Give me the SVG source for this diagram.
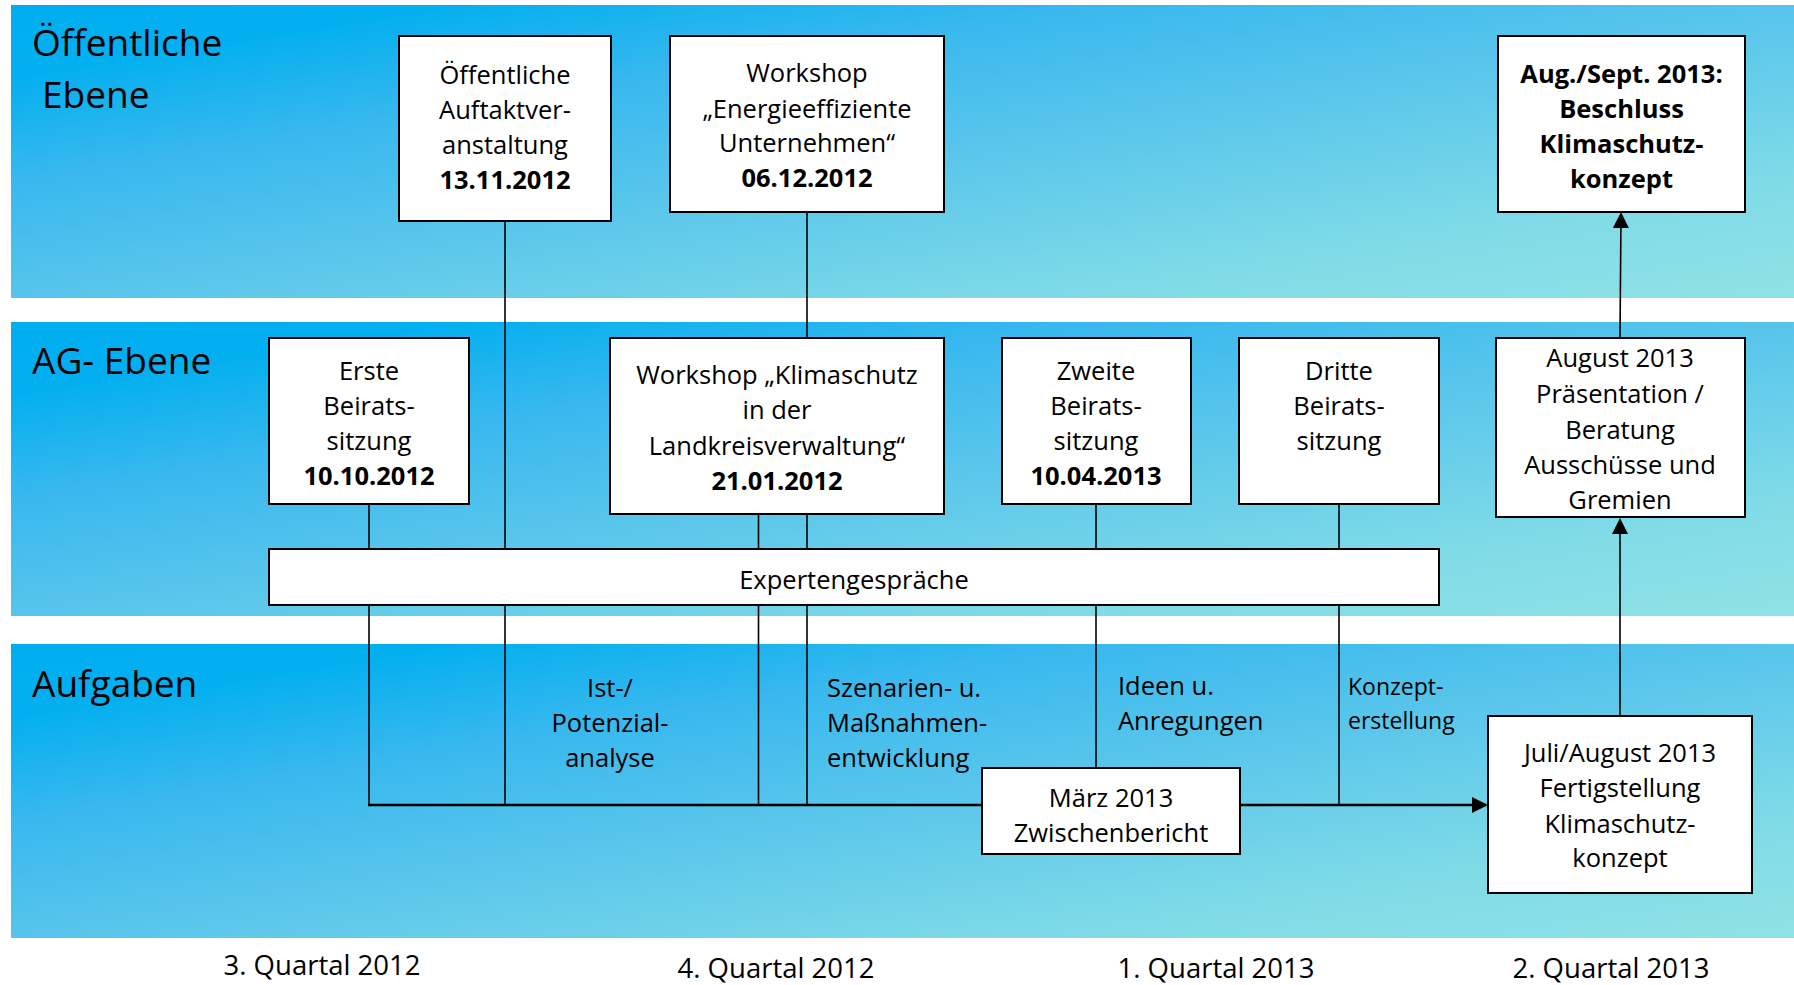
<svg xmlns="http://www.w3.org/2000/svg" width="1794" height="985" viewBox="0 0 1794 985">
  <defs>
    <linearGradient id="bandFill" x1="0" y1="0" x2="1" y2="1">
      <stop offset="0" stop-color="#00AEEF"/>
      <stop offset="0.12" stop-color="#03AFEF"/>
      <stop offset="0.3" stop-color="#38B8EE"/>
      <stop offset="0.55" stop-color="#5EC8EB"/>
      <stop offset="0.8" stop-color="#80DBE7"/>
      <stop offset="1" stop-color="#90E2E5"/>
    </linearGradient>
    <marker id="arrowHead" markerUnits="userSpaceOnUse" markerWidth="16" markerHeight="16" refX="14" refY="8" orient="auto">
      <path d="M0,0 L16,8 L0,16 Z" fill="#000"/>
    </marker>
    <style>
      text { font-family: "Open Sans", "Noto Sans", "Liberation Sans", sans-serif; fill: #000; }
      .lvl { font-size: 37px; }
      .t { font-size: 25.5px; text-anchor: middle; }
      .l { font-size: 25.5px; }
      .k { font-size: 23px; }
      .q { font-size: 27.5px; text-anchor: middle; }
      .b { font-weight: bold; }
      .box { fill: #fff; stroke: #000; stroke-width: 2; }
      .wire { fill: none; stroke: #000; stroke-width: 1.6; }
      .main { fill: none; stroke: #000; stroke-width: 2.6; }
    </style>
  </defs>

  <!-- swim lanes -->
  <g id="lanes">
    <rect x="11" y="5" width="1783" height="293" fill="url(#bandFill)"/>
    <rect x="11" y="322" width="1783" height="294" fill="url(#bandFill)"/>
    <rect x="11" y="644" width="1783" height="294" fill="url(#bandFill)"/>
    <text class="lvl" x="32" y="56">Öffentliche</text>
    <text class="lvl" x="42" y="108">Ebene</text>
    <text class="lvl" x="32" y="374">AG- Ebene</text>
    <text class="lvl" x="32" y="697">Aufgaben</text>
  </g>

  <!-- connectors -->
  <g id="connectors">
    <line class="wire" x1="369" y1="504" x2="369" y2="805"/>
    <line class="wire" x1="505" y1="221" x2="505" y2="805"/>
    <line class="wire" x1="758.5" y1="514" x2="758.5" y2="805"/>
    <line class="wire" x1="807" y1="212" x2="807" y2="805"/>
    <line class="wire" x1="1096" y1="504" x2="1096" y2="768"/>
    <line class="wire" x1="1339" y1="504" x2="1339" y2="805"/>
    <line class="main" x1="368" y1="805" x2="1486" y2="805" marker-end="url(#arrowHead)"/>
    <line class="wire" x1="1620" y1="716" x2="1620" y2="520" marker-end="url(#arrowHead)"/>
    <line class="wire" x1="1620" y1="338" x2="1621" y2="214" marker-end="url(#arrowHead)"/>
  </g>

  <!-- public level -->
  <g id="kickoff">
    <rect class="box" x="399" y="36" width="212" height="185"/>
    <text class="t" x="505" y="84">Öffentliche</text>
    <text class="t" x="505" y="119">Auftaktver-</text>
    <text class="t" x="505" y="154">anstaltung</text>
    <text class="t b" x="505" y="189">13.11.2012</text>
  </g>
  <g id="workshop-energie">
    <rect class="box" x="670" y="36" width="274" height="176"/>
    <text class="t" x="807" y="82">Workshop</text>
    <text class="t" x="807" y="117.5">„Energieeffiziente</text>
    <text class="t" x="807" y="152">Unternehmen“</text>
    <text class="t b" x="807" y="187">06.12.2012</text>
  </g>
  <g id="beschluss">
    <rect class="box" x="1498" y="36" width="247" height="176"/>
    <text class="t b" x="1621.5" y="83">Aug./Sept. 2013:</text>
    <text class="t b" x="1621.5" y="117.5">Beschluss</text>
    <text class="t b" x="1621.5" y="152.5">Klimaschutz-</text>
    <text class="t b" x="1621.5" y="187.5">konzept</text>
  </g>

  <!-- working group level -->
  <g id="beirat-1">
    <rect class="box" x="269" y="338" width="200" height="166"/>
    <text class="t" x="369" y="380">Erste</text>
    <text class="t" x="369" y="415">Beirats-</text>
    <text class="t" x="369" y="450">sitzung</text>
    <text class="t b" x="369" y="485">10.10.2012</text>
  </g>
  <g id="workshop-klimaschutz">
    <rect class="box" x="610" y="338" width="334" height="176"/>
    <text class="t" x="777" y="384">Workshop „Klimaschutz</text>
    <text class="t" x="777" y="419">in der</text>
    <text class="t" x="777" y="455">Landkreisverwaltung“</text>
    <text class="t b" x="777" y="490">21.01.2012</text>
  </g>
  <g id="beirat-2">
    <rect class="box" x="1002" y="338" width="189" height="166"/>
    <text class="t" x="1096" y="380">Zweite</text>
    <text class="t" x="1096" y="415">Beirats-</text>
    <text class="t" x="1096" y="450">sitzung</text>
    <text class="t b" x="1096" y="485">10.04.2013</text>
  </g>
  <g id="beirat-3">
    <rect class="box" x="1239" y="338" width="200" height="166"/>
    <text class="t" x="1339" y="380">Dritte</text>
    <text class="t" x="1339" y="415">Beirats-</text>
    <text class="t" x="1339" y="450">sitzung</text>
  </g>
  <g id="praesentation">
    <rect class="box" x="1496" y="338" width="249" height="179"/>
    <text class="t" x="1620" y="367">August 2013</text>
    <text class="t" x="1620" y="403">Präsentation /</text>
    <text class="t" x="1620" y="438.5">Beratung</text>
    <text class="t" x="1620" y="474">Ausschüsse und</text>
    <text class="t" x="1620" y="509">Gremien</text>
  </g>
  <g id="expertengespraeche">
    <rect class="box" x="269" y="549" width="1170" height="56"/>
    <text class="t" x="854" y="589">Expertengespräche</text>
  </g>

  <!-- tasks -->
  <g id="task-analyse">
    <text class="t" x="610" y="697">Ist-/</text>
    <text class="t" x="610" y="732">Potenzial-</text>
    <text class="t" x="610" y="767">analyse</text>
  </g>
  <g id="task-szenarien">
    <text class="l" x="827" y="697">Szenarien- u.</text>
    <text class="l" x="827" y="732">Maßnahmen-</text>
    <text class="l" x="827" y="767">entwicklung</text>
  </g>
  <g id="task-ideen">
    <text class="l" x="1118" y="695">Ideen u.</text>
    <text class="l" x="1118" y="730">Anregungen</text>
  </g>
  <g id="task-konzept">
    <text class="k" x="1348" y="695">Konzept-</text>
    <text class="k" x="1348" y="729">erstellung</text>
  </g>
  <g id="zwischenbericht">
    <rect class="box" x="982" y="768" width="258" height="86"/>
    <text class="t" x="1111" y="807">März 2013</text>
    <text class="t" x="1111" y="842">Zwischenbericht</text>
  </g>
  <g id="fertigstellung">
    <rect class="box" x="1488" y="716" width="264" height="177"/>
    <text class="t" x="1620" y="762">Juli/August 2013</text>
    <text class="t" x="1620" y="797">Fertigstellung</text>
    <text class="t" x="1620" y="832.5">Klimaschutz-</text>
    <text class="t" x="1620" y="867">konzept</text>
  </g>

  <!-- timeline -->
  <g id="quarters">
    <text class="q" x="322" y="975">3. Quartal 2012</text>
    <text class="q" x="776" y="978">4. Quartal 2012</text>
    <text class="q" x="1216" y="978">1. Quartal 2013</text>
    <text class="q" x="1611" y="978">2. Quartal 2013</text>
  </g>
</svg>
